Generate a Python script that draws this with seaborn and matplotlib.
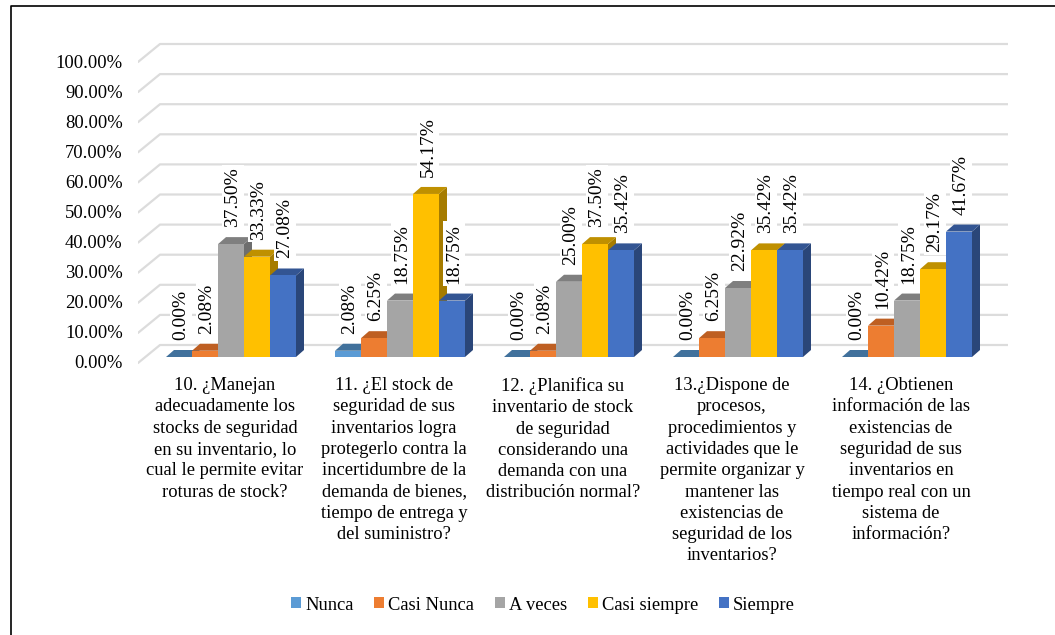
import matplotlib
matplotlib.use("Agg")
import matplotlib.pyplot as plt
from matplotlib.lines import Line2D
from matplotlib.patches import Polygon, Rectangle
from matplotlib.transforms import ScaledTranslation
import numpy as np
import pandas as pd
import seaborn as sns

DPI = 100
PX_H = 635
PX_W = 1055

questions = [
    "10. ¿Manejan\nadecuadamente los\nstocks de seguridad\nen su inventario, lo\ncual le permite evitar\nroturas de stock?",
    "11. ¿El stock de\nseguridad de sus\ninventarios logra\nprotegerlo contra la\nincertidumbre de la\ndemanda de bienes,\ntiempo de entrega y\ndel suministro?",
    "12. ¿Planifica su\ninventario de stock\nde seguridad\nconsiderando una\ndemanda con una\ndistribución normal?",
    "13.¿Dispone de\nprocesos,\nprocedimientos y\nactividades que le\npermite organizar y\nmantener las\nexistencias de\nseguridad de los\ninventarios?",
    "14. ¿Obtienen\ninformación de las\nexistencias de\nseguridad de sus\ninventarios en\ntiempo real con un\nsistema de\ninformación?",
]
answers = ["Nunca", "Casi Nunca", "A veces", "Casi siempre", "Siempre"]
nunca = [0.00, 2.08, 0.00, 0.00, 0.00]
casi_nunca = [2.08, 6.25, 2.08, 6.25, 10.42]
a_veces = [37.50, 18.75, 25.00, 22.92, 18.75]
casi_siempre = [33.33, 54.17, 37.50, 35.42, 29.17]
siempre = [27.08, 18.75, 35.42, 35.42, 41.67]
series = [nunca, casi_nunca, a_veces, casi_siempre, siempre]
y_ticks = list(range(0, 101, 10))

front_colors = ["#5B9BD5", "#ED7D31", "#A5A5A5", "#FFC000", "#4472C4"]
top_colors = ["#41719C", "#BE5F22", "#7F7F7F", "#BF9000", "#335593"]
side_colors = ["#2E6190", "#A9561F", "#6E6E6E", "#A67C00", "#2A4679"]

sns.set_theme(style="white")
plt.rcParams["font.family"] = ["Liberation Serif", "DejaVu Serif"]

df = pd.DataFrame(
    [(q, a, vals[i]) for a, vals in zip(answers, series) for i, q in enumerate(questions)],
    columns=["pregunta", "respuesta", "valor"],
)

fig = plt.figure(figsize=(PX_W / DPI, PX_H / DPI), dpi=DPI)
# pixel frame of the plot: y value 0 sits at 357 px, one percent is 3.01 px
PX_PER_PCT = 3.01
PERIOD = 169.0
ax_left, ax_right = 138, 1008
ax_top, ax_bottom = 40, 366
ax = fig.add_axes([ax_left / PX_W, 1 - ax_bottom / PX_H,
                   (ax_right - ax_left) / PX_W, (ax_bottom - ax_top) / PX_H])

sns.barplot(data=df, x="pregunta", y="valor", hue="respuesta", order=questions,
            hue_order=answers, palette=front_colors, width=130 / PERIOD, gap=0,
            saturation=1, legend=False, ax=ax)

ax.set_xlim((ax_left - 231) / PERIOD, (ax_right - 231) / PERIOD)
ax.set_ylim((357 - ax_bottom) / PX_PER_PCT, (357 - ax_top) / PX_PER_PCT)
ax.set_xlabel("")
ax.set_ylabel("")
sns.despine(ax=ax, left=True, bottom=True, right=True, top=True)

# 3D look: depth of the bars and of the back wall, in data units
dx_bar = 8 / PERIOD
dy_bar = 7 / PX_PER_PCT
wall_dx = 22 / PERIOD
wall_front = -6 / PX_PER_PCT
wall_back = 12 / PX_PER_PCT

x0, x1 = ax.get_xlim()
for v in y_ticks:
    ax.plot([x0, x0 + wall_dx, x1], [v + wall_front, v + wall_back, v + wall_back],
            color="#DCDCDC", lw=1.6, zorder=0.5, solid_capstyle="round")

for s, container in enumerate(ax.containers):
    for bar, val in zip(container, series[s]):
        x, w, h = bar.get_x(), bar.get_width(), bar.get_height()
        z = 2 + 0.1 * s + x
        bar.set_zorder(z)
        bar.set_linewidth(0)
        top = Polygon([(x, h), (x + w, h), (x + w + dx_bar, h + dy_bar), (x + dx_bar, h + dy_bar)],
                      closed=True, fc=top_colors[s], ec="none", zorder=z - 0.01)
        side = Polygon([(x + w, 0), (x + w, h), (x + w + dx_bar, h + dy_bar), (x + w + dx_bar, dy_bar)],
                       closed=True, fc=side_colors[s], ec="none", zorder=z - 0.01)
        ax.add_patch(side)
        ax.add_patch(top)
        ax.text(x + w / 2 + 2 / PERIOD, h + dy_bar + 10 / PX_PER_PCT, f"{val:.2f}%", rotation=90,
                ha="center", va="bottom", fontsize=14, color="black", zorder=100,
                bbox=dict(fc="white", ec="none", pad=2))

ax.set_yticks(y_ticks)
ax.set_yticklabels([f"{v:.2f}%" for v in y_ticks], fontsize=13.4, color="black")
ax.tick_params(axis="y", length=0, pad=11)
ax.tick_params(axis="x", length=0, pad=8)
ax.set_xticks(range(len(questions)))
ax.set_xticklabels(questions, fontsize=13.3, color="black", linespacing=1.33, va="top")

ylab_shift = ScaledTranslation(0, -5 / DPI, fig.dpi_scale_trans)
for lab in ax.get_yticklabels():
    lab.set_transform(lab.get_transform() + ylab_shift)
xlab_shift = ScaledTranslation(-6 / DPI, 0, fig.dpi_scale_trans)
for lab in ax.get_xticklabels():
    lab.set_transform(lab.get_transform() + xlab_shift)

handles = [Rectangle((0, 0), 1, 1, fc=c, ec="none") for c in front_colors]
fig.legend(handles, answers, loc="center", bbox_to_anchor=(543 / PX_W, 1 - 605 / PX_H), ncol=5,
           frameon=False, fontsize=13.3, handlelength=0.54, handleheight=0.54,
           handletextpad=0.22, columnspacing=1.13, labelcolor="black")

# only the left and top edges of the outer frame show in the picture
fig.add_artist(Line2D([11 / PX_W, 11 / PX_W, 1], [0, 1 - 6 / PX_H, 1 - 6 / PX_H],
                      transform=fig.transFigure, color="black", lw=1.2))

fig.savefig("out.png", dpi=DPI, facecolor="white")
